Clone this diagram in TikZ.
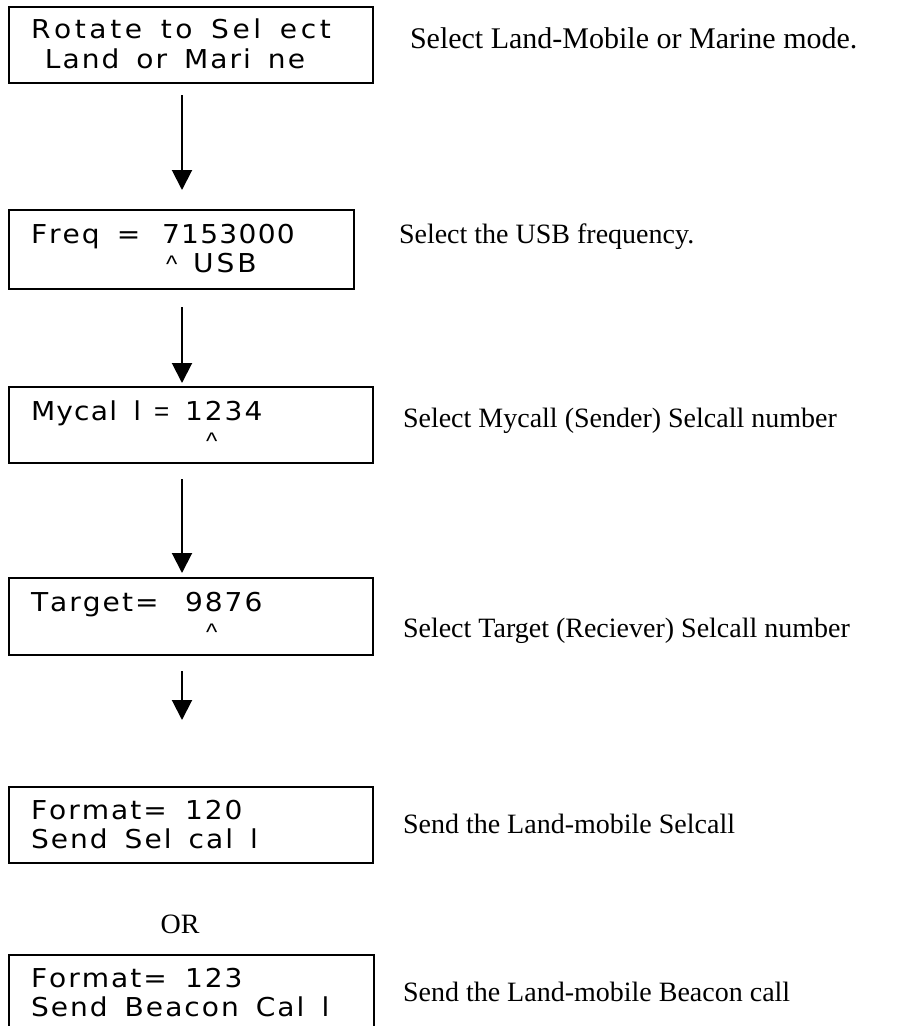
\documentclass[tikz,border=0pt]{standalone}
\usepackage{fontspec}
\setmainfont{Liberation Serif}
\newfontfamily\lcdfont[FakeStretch=1.08]{DejaVu Sans}
\newfontfamily\caretfont{Liberation Sans}
\usetikzlibrary{arrows.meta}
\ExplSyntaxOn
\NewDocumentCommand\lcd{O{2pt}m}{\str_map_inline:nn{#2}{\str_if_eq:nnTF{##1}{~}{\kern15pt}{##1\kern#1}}\unkern}
\ExplSyntaxOff
\begin{document}
\begin{tikzpicture}[x=1pt,y=-1pt,
  box/.style={draw, line width=2pt, rectangle, inner sep=0pt, outer sep=0pt, anchor=north west},
  lcdtxt/.style={anchor=base west, inner sep=0pt, outer sep=0pt, font=\lcdfont\fontsize{26}{30}\selectfont},
  caret/.style={anchor=base west, inner sep=0pt, outer sep=0pt, font=\caretfont\fontsize{24}{30}\selectfont},
  desc/.style={anchor=base west, inner sep=0pt, outer sep=0pt, font=\fontsize{28}{34}\selectfont},
  arr/.style={-{Triangle[width=20pt,length=20pt]}, line width=2pt}]
\useasboundingbox (0,0) rectangle (900,1026);
\clip (0,0) rectangle (900,1026);
\coordinate (ax) at (182,0);
% boxes
\node[box, minimum width=364pt, minimum height=76pt] (b1) at (9,7) {};
\node[box, minimum width=345pt, minimum height=79pt] (b2) at (9,210) {};
\node[box, minimum width=364pt, minimum height=76pt] (b3) at (9,387) {};
\node[box, minimum width=364pt, minimum height=77pt] (b4) at (9,578) {};
\node[box, minimum width=364pt, minimum height=76pt] (b5) at (9,787) {};
\node[box, minimum width=365pt, minimum height=76pt] (b6) at (9,955) {};
% box texts
\node[lcdtxt] (t1a) at (31,38) {\lcd[3.6pt]{Rotate to Sel ect}};
\node[lcdtxt] (t1b) at (45,68) {\lcd{Land or Mari ne}};
\node[lcdtxt] (t2a) at (31,243) {\lcd{Freq =}};
\node[lcdtxt] (t2c) at (162,243) {\lcd[1.3pt]{7153000}};
\node[caret] (t2b) at (166,272) {\^{}};
\node[lcdtxt] (t2d) at (193,272) {\lcd[3pt]{USB}};
\node[lcdtxt] (t3a) at (31,420) {\lcd[1.2pt]{Mycal l}};
\node[caret, font=\caretfont\fontsize{26}{30}\selectfont] (t3e) at (154,420) {=};
\node[lcdtxt] (t3c) at (185,420) {\lcd{1234}};
\node[caret] (t3b) at (206,449) {\^{}};
\node[lcdtxt] (t4a) at (31,611) {\lcd{Target=}};
\node[lcdtxt] (t4c) at (185,611) {\lcd{9876}};
\node[caret] (t4b) at (206,640) {\^{}};
\node[lcdtxt] (t5a) at (31,819) {\lcd{Format=}};
\node[lcdtxt] (t5c) at (185,819) {\lcd{120}};
\node[lcdtxt] (t5b) at (31,848) {\lcd{Send Sel cal l}};
\node[lcdtxt] (t6a) at (31,987) {\lcd{Format=}};
\node[lcdtxt] (t6c) at (185,987) {\lcd{123}};
\node[lcdtxt] (t6b) at (31,1016) {\lcd{Send Beacon Cal l}};
% descriptions
\node[desc, font=\fontsize{30}{36}\selectfont] (d1) at (410,48) {Select Land-Mobile or Marine mode.};
\node[desc] (d2) at (399,243) {Select the USB frequency.};
\node[desc] (d3) at (403,427) {Select Mycall (Sender) Selcall number};
\node[desc] (d4) at (403,637) {Select Target (Reciever) Selcall number};
\node[desc] (d5) at (403,833) {Send the Land-mobile Selcall};
\node[desc] (d6) at (403,1001) {Send the Land-mobile Beacon call};
\node[desc, anchor=base] (or) at (180,933) {OR};
% arrows
\draw[arr, shorten <=12pt, shorten >=20pt] (b1.south -| ax) -- (b2.north -| ax);
\draw[arr, shorten <=18pt, shorten >=4pt] (b2.south -| ax) -- (b3.north -| ax);
\draw[arr, shorten <=16pt, shorten >=5pt] (b3.south -| ax) -- (b4.north -| ax);
\draw[arr, shorten <=16pt, shorten >=67pt] (b4.south -| ax) -- (b5.north -| ax);
\end{tikzpicture}
\end{document}
